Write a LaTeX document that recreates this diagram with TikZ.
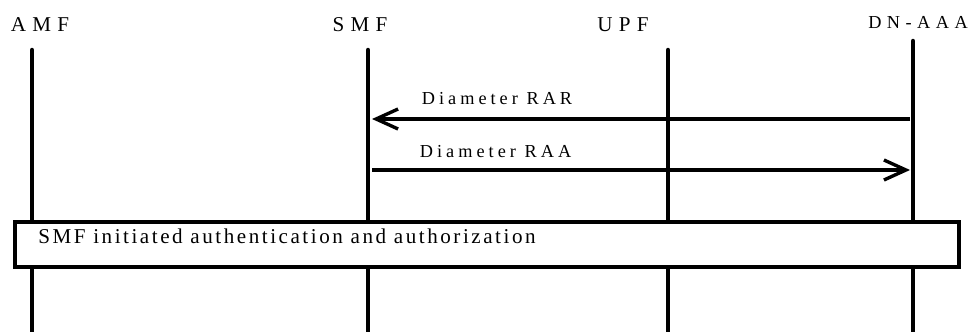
\documentclass[tikz,border=0pt]{standalone}
\usepackage{fontspec}
\setmainfont{Liberation Serif}
\usepackage{tikz}
\usetikzlibrary{arrows.meta, positioning}
\newfontfamily\wideFont[LetterSpace=30]{Liberation Serif}
\newfontfamily\msgFont[LetterSpace=22]{Liberation Serif}
\newfontfamily\boxFont[LetterSpace=12]{Liberation Serif}
\newcommand{\entName}[1]{{\wideFont\fontsize{15}{18}\selectfont #1}}
\newcommand{\smallEnt}[1]{{\wideFont\fontsize{13}{16}\selectfont #1}}
\newcommand{\msgName}[1]{{\msgFont\fontsize{13}{16}\selectfont #1}}
\tikzstyle{entity} = [inner sep=0pt, anchor=base]
\tikzstyle{lifeline} = [line width=3.2pt, line cap=round]
\tikzstyle{message} = [-{Straight Barb[length=0.55cm, width=0.5cm]}, line width=2.4pt]
\tikzstyle{phaseBox} = [draw, line width=2.6pt, fill=white, rectangle, inner sep=0pt, anchor=north west]

\begin{document}
\begin{tikzpicture}
    \useasboundingbox (0,0) rectangle (24.425,8.275);

    % Entities
    \node[entity] (amf) at (1.0,7.5) {\entName{AMF}};
    \node[entity] (smf) at (9.0,7.475) {\entName{SMF}};
    \node[entity] (upf) at (15.575,7.475) {\entName{UPF}};
    \node[entity] (dnaaa) at (22.95,7.575) {\smallEnt{DN-AAA}};

    % Lifelines
    \coordinate (amfTop) at (0.8,7.025);
    \coordinate (amfBot) at (0.8,-0.2);
    \coordinate (smfTop) at (9.2,7.025);
    \coordinate (smfBot) at (9.2,-0.2);
    \coordinate (upfTop) at (16.7,7.025);
    \coordinate (upfBot) at (16.7,-0.2);
    \coordinate (dnaaaTop) at (22.825,7.25);
    \coordinate (dnaaaBot) at (22.825,-0.2);
    \draw[lifeline] (amfTop) -- (amfBot);
    \draw[lifeline] (smfTop) -- (smfBot);
    \draw[lifeline] (upfTop) -- (upfBot);
    \draw[lifeline] (dnaaaTop) -- (dnaaaBot);

    % Messages
    \coordinate (rarFrom) at (22.75,5.3);
    \coordinate (rarTo) at (9.3,5.3);
    \coordinate (raaFrom) at (9.3,4.025);
    \coordinate (raaTo) at (22.75,4.025);
    \draw[message] (rarFrom) -- (rarTo);
    \draw[message] (raaFrom) -- (raaTo);
    \node[entity] (rar) at (12.425,5.675) {\msgName{Diameter RAR}};
    \node[entity] (raa) at (12.39,4.35) {\msgName{Diameter RAA}};

    % SMF initiated phase
    \node[phaseBox, minimum width=23.6cm, minimum height=1.125cm] (phase) at (0.325,2.775) {};
    \node[inner sep=0pt, anchor=base west] (phaseText) at (0.95,2.2) {\boxFont\fontsize{15}{18}\selectfont SMF initiated authentication and authorization};
\end{tikzpicture}
\end{document}
